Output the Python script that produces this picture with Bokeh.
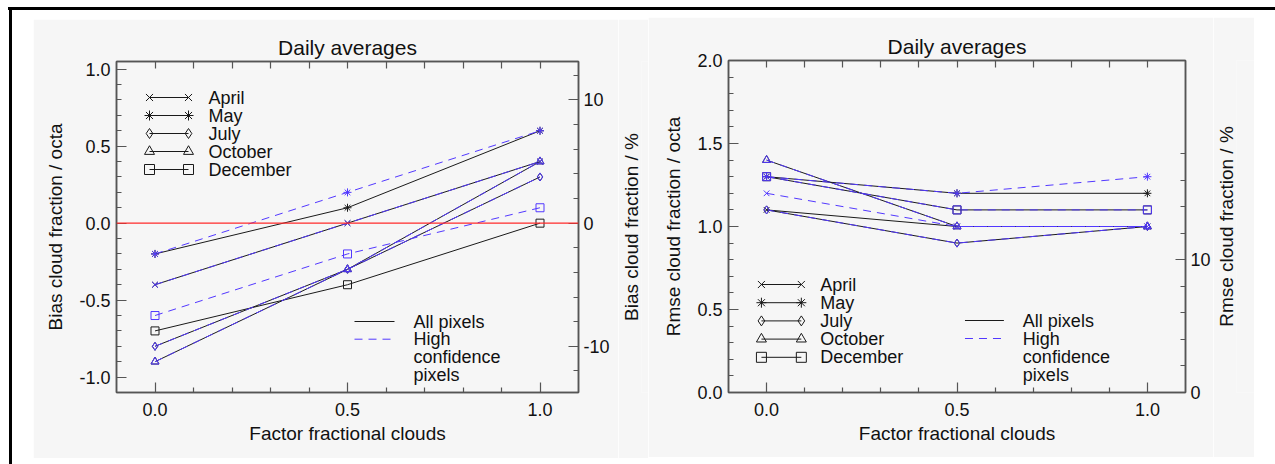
from bokeh.plotting import figure
from bokeh.models import Range1d, LinearAxis, FixedTicker, PrintfTickFormatter, Spacer, Span, Title
from bokeh.layouts import row, column
from bokeh.core.properties import value
from bokeh.embed import file_html
from bokeh.resources import INLINE

# ---------------- data ----------------
factor = [0.0, 0.5, 1.0]
months = ["April", "May", "July", "October", "December"]

bias_all_april = [-0.4, 0.0, 0.4]
bias_all_may = [-0.2, 0.1, 0.6]
bias_all_july = [-0.8, -0.3, 0.3]
bias_all_october = [-0.9, -0.3, 0.4]
bias_all_december = [-0.7, -0.4, 0.0]

bias_high_april = [-0.4, 0.0, 0.4]
bias_high_may = [-0.2, 0.2, 0.6]
bias_high_july = [-0.8, -0.3, 0.3]
bias_high_october = [-0.9, -0.3, 0.4]
bias_high_december = [-0.6, -0.2, 0.1]

rmse_all_april = [1.1, 1.0, 1.0]
rmse_all_may = [1.3, 1.2, 1.2]
rmse_all_july = [1.1, 0.9, 1.0]
rmse_all_october = [1.4, 1.0, 1.0]
rmse_all_december = [1.3, 1.1, 1.1]

rmse_high_april = [1.2, 1.0, 1.0]
rmse_high_may = [1.3, 1.2, 1.3]
rmse_high_july = [1.1, 0.9, 1.0]
rmse_high_october = [1.4, 1.0, 1.0]
rmse_high_december = [1.3, 1.1, 1.1]

style_labels = ["All pixels", "High", "confidence", "pixels"]

x_major = [0.0, 0.5, 1.0]
x_minor = [0.1, 0.2, 0.3, 0.4, 0.6, 0.7, 0.8, 0.9]
bias_major = [-1.0, -0.5, 0.0, 0.5, 1.0]
bias_minor = [-1.1, -0.9, -0.8, -0.7, -0.6, -0.4, -0.3, -0.2, -0.1,
              0.1, 0.2, 0.3, 0.4, 0.6, 0.7, 0.8, 0.9]
bias_pct_major = [-10, 0, 10]
bias_pct_minor = [-12, -8, -6, -4, -2, 2, 4, 6, 8, 12]
rmse_major = [0.0, 0.5, 1.0, 1.5, 2.0]
rmse_minor = [0.1, 0.2, 0.3, 0.4, 0.6, 0.7, 0.8, 0.9,
              1.1, 1.2, 1.3, 1.4, 1.6, 1.7, 1.8, 1.9]
rmse_pct_major = [0, 10]
rmse_pct_minor = [2, 4, 6, 8, 12, 14, 16, 18]
OCTA_TO_PCT = 12.5

bias_all = [bias_all_april, bias_all_may, bias_all_july, bias_all_october, bias_all_december]
bias_high = [bias_high_april, bias_high_may, bias_high_july, bias_high_october, bias_high_december]
rmse_all = [rmse_all_april, rmse_all_may, rmse_all_july, rmse_all_october, rmse_all_december]
rmse_high = [rmse_high_april, rmse_high_may, rmse_high_july, rmse_high_october, rmse_high_december]

# ---------------- style ----------------
FONT = "Liberation Sans"
BG = "#f6f6f6"
AX = "#555555"
TXT = "#111111"
BLACK = "#1a1a1a"
BLUE = "#5238ff"
RED = "#ff2a2a"
MARKERS = ["x", "asterisk", "diamond", "triangle", "square"]
MSIZE = 8
DASH = "8 6"


def style_axis(ax, ticks, minor, fmt):
    ax.ticker = FixedTicker(ticks=ticks, minor_ticks=minor)
    ax.formatter = PrintfTickFormatter(format=fmt)
    ax.major_tick_in = 10
    ax.major_tick_out = 0
    ax.minor_tick_in = 5
    ax.minor_tick_out = 0
    ax.axis_line_color = AX
    ax.axis_line_width = 1.5
    ax.major_tick_line_color = AX
    ax.minor_tick_line_color = AX
    ax.major_tick_line_width = 1.2
    ax.minor_tick_line_width = 1.2
    ax.major_label_text_font = FONT
    ax.major_label_text_color = TXT
    ax.major_label_text_font_size = "18px"
    ax.axis_label_text_font = FONT
    ax.axis_label_text_font_size = "19px"
    ax.axis_label_text_font_style = "normal"
    ax.axis_label_text_color = TXT


def make_panel(ydata_all, ydata_high, yr, major, minor, pmajor, pminor, ylabel,
               width, height, borders, legend_months, legend_styles, zero_line):
    xr = Range1d(-0.1, 1.1)
    yrange = Range1d(*yr)
    p = figure(width=width, height=height, x_range=xr, y_range=yrange,
               output_backend="svg", toolbar_location=None,
               min_border_left=borders[0], min_border_right=borders[1],
               min_border_top=borders[2], min_border_bottom=borders[3],
               background_fill_color=BG, border_fill_color=BG,
               outline_line_color=AX, outline_line_width=1.5,
               x_axis_label="Factor fractional clouds", y_axis_label=ylabel)
    p.extra_y_ranges = {"pct": Range1d(yr[0] * OCTA_TO_PCT, yr[1] * OCTA_TO_PCT)}
    p.xgrid.visible = False
    p.ygrid.visible = False

    p.title.text = "Daily averages"
    p.title.align = "center"
    p.title.text_font = FONT
    p.title.text_font_size = "21px"
    p.title.text_font_style = "normal"
    p.title.text_color = TXT
    p.title.standoff = 5

    style_axis(p.xaxis[0], x_major, x_minor, "%.1f")
    p.xaxis[0].major_label_standoff = 10
    p.xaxis[0].axis_label_standoff = 4
    style_axis(p.yaxis[0], major, minor, "%.1f")
    p.yaxis[0].major_label_standoff = 6
    p.yaxis[0].axis_label_standoff = 10

    # mirrored top axis: ticks only, no labels
    top = LinearAxis()
    style_axis(top, [], x_major + x_minor, "%.1f")
    top.minor_tick_in = 7
    top.major_label_standoff = 0
    p.add_layout(top, "above")

    right = LinearAxis(y_range_name="pct")
    style_axis(right, pmajor, pminor, "%d")
    right.major_label_standoff = 5
    p.add_layout(right, "right")

    if zero_line:
        p.add_layout(Span(location=0, dimension="width", line_color=RED, line_width=1.2))

    for ys in ydata_all:
        p.line(factor, ys, line_color=BLACK, line_width=1)
    for ys in ydata_high:
        p.line(factor, ys, line_color=BLUE, line_width=1, line_dash=DASH)
    for ys, m in zip(ydata_all, MARKERS):
        p.scatter(factor, ys, marker=m, size=MSIZE, line_color=BLACK, fill_color=None, line_width=1)
    for ys, m in zip(ydata_high, MARKERS):
        p.scatter(factor, ys, marker=m, size=MSIZE, line_color=BLUE, fill_color=None, line_width=1)

    # ---- legends (positions in pixels from the frame's top-left corner) ----
    fw = width - borders[0] - borders[1]
    fh = height - borders[2] - borders[3]

    def fx(px):
        return xr.start + px / fw * (xr.end - xr.start)

    def fy(py):
        return yrange.end - py / fh * (yrange.end - yrange.start)

    x_l, x_r, x_t, y0, dy = legend_months
    for i, (name, m) in enumerate(zip(months, MARKERS)):
        yy = fy(y0 + i * dy)
        p.line([fx(x_l), fx(x_r)], [yy, yy], line_color=BLACK, line_width=1)
        p.scatter([fx(x_l), fx(x_r)], [yy, yy], marker=m, size=10, line_color=BLACK,
                  fill_color=None, line_width=1)
    p.text([fx(x_t)] * len(months), [fy(y0 + i * dy) for i in range(len(months))], text=months,
           text_font=value(FONT), text_font_size="18px", text_color=TXT,
           text_baseline="middle", text_align="left")

    s_l, s_r, s_t, s0, sdy = legend_styles
    p.line([fx(s_l), fx(s_r)], [fy(s0), fy(s0)], line_color=BLACK, line_width=1)
    p.line([fx(s_l), fx(s_r)], [fy(s0 + sdy), fy(s0 + sdy)], line_color=BLUE, line_width=1,
           line_dash=DASH)
    p.text([fx(s_t)] * len(style_labels), [fy(s0 + i * sdy) for i in range(len(style_labels))],
           text=style_labels, text_font=value(FONT), text_font_size="18px", text_color=TXT,
           text_baseline="middle", text_align="left")
    return p


def side_label(text, width, height, top, bottom):
    """Narrow strip carrying the right-hand axis title, reading bottom-to-top."""
    q = figure(width=width, height=height, output_backend="svg", toolbar_location=None,
               x_axis_location=None, y_axis_location=None,
               min_border_left=0, min_border_right=0,
               min_border_top=top, min_border_bottom=bottom,
               background_fill_color=BG, border_fill_color=BG, outline_line_color=None)
    q.xgrid.visible = False
    q.ygrid.visible = False
    t = Title(text=text, align="center", text_font=FONT, text_font_size="19px",
              text_font_style="normal", text_color=TXT, standoff=0, offset=0)
    q.add_layout(t, "left")
    return q


p1 = make_panel(bias_all, bias_high, (-1.1, 1.05), bias_major, bias_minor,
                bias_pct_major, bias_pct_minor, "Bias cloud fraction / octa",
                585, 439, (83, 40, 42, 66),
                (33, 72, 92, 36, 18), (238, 278, 297, 260, 17.7), True)
q1 = side_label("Bias cloud fraction / %", 30, 439, 42, 66)

p2 = make_panel(rmse_all, rmse_high, (0.0, 2.0), rmse_major, rmse_minor,
                rmse_pct_major, rmse_pct_minor, "Rmse cloud fraction / octa",
                565, 440, (80, 27, 43, 65),
                (33, 73, 92, 224, 18.2), (237, 276, 295, 260, 18), False)
q2 = side_label("Rmse cloud fraction / %", 41, 440, 43, 65)

top_bar = Spacer(width=1267, height=3, styles={"background-color": "black"})
left_bar = Spacer(width=3, height=454, styles={"background-color": "black"})
layout = column(
    Spacer(width=10, height=7),
    row(Spacer(width=8, height=3), top_bar),
    row(Spacer(width=9, height=10),
        left_bar,
        Spacer(width=21, height=10),
        column(Spacer(width=585, height=9), p1),
        column(Spacer(width=30, height=9), q1),
        column(Spacer(width=565, height=7), p2),
        column(Spacer(width=41, height=7), q2)))

open("out.html", "w").write(file_html(layout, INLINE))
